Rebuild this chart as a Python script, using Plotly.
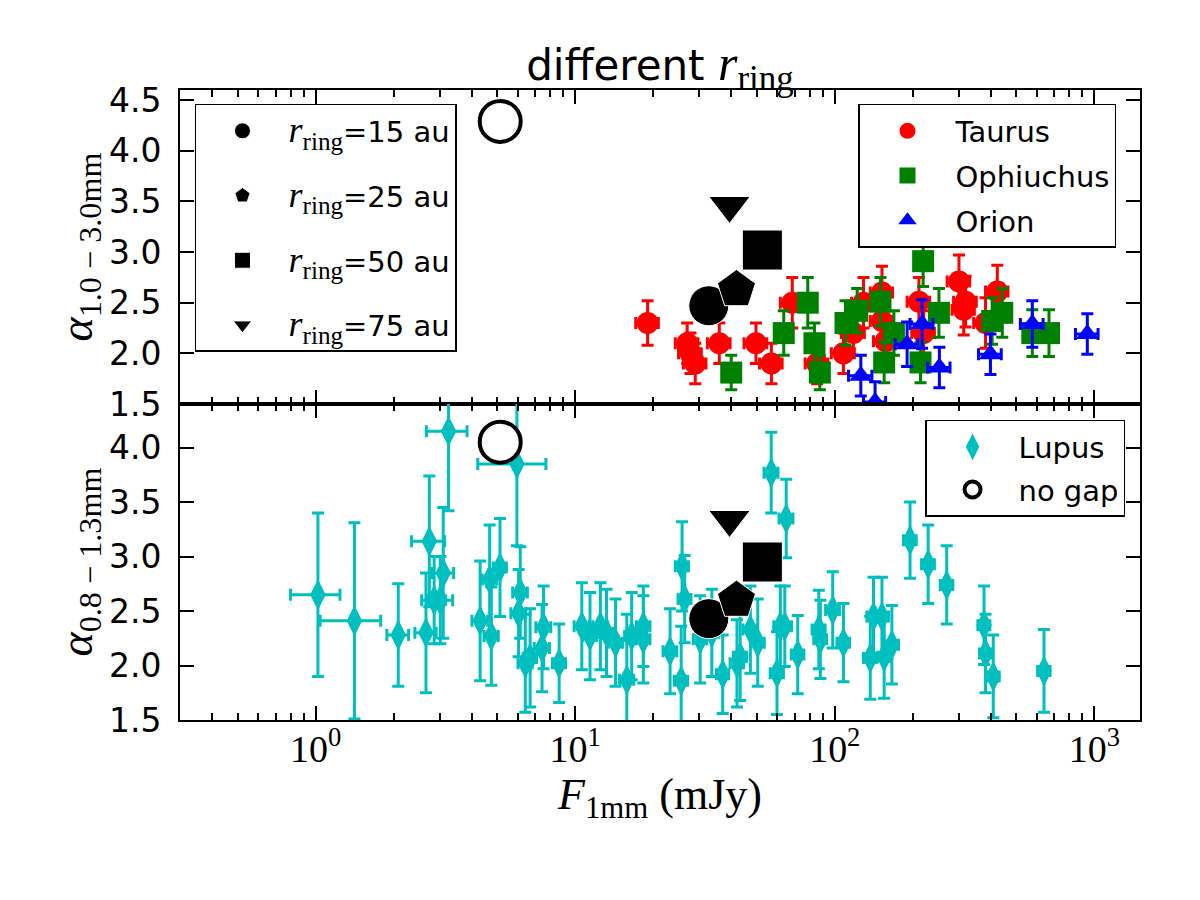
import plotly.graph_objects as go

# ---------------- data ----------------
# Taurus (red circles), top panel
taurus_F = [19.0, 27.0, 27.8, 29.0, 35.9, 49.7, 57.0, 68.6, 85.5, 108, 118, 129,
            152, 152, 157, 211, 220, 301, 319, 314, 381, 423]
taurus_F_err = [1.9, 2.7, 2.8, 2.9, 3.6, 5.0, 5.7, 6.9, 8.6, 11, 12, 13,
                15, 15, 16, 21, 22, 30, 32, 31, 38, 42]
taurus_alpha = [2.30, 2.10, 2.00, 1.90, 2.10, 2.10, 1.90, 2.50, 1.90, 2.00, 2.20, 2.50,
                2.60, 2.32, 2.12, 2.51, 2.20, 2.71, 2.51, 2.43, 2.30, 2.61]
taurus_alpha_err = [0.22, 0.20, 0.20, 0.20, 0.20, 0.20, 0.20, 0.25, 0.20, 0.20, 0.22, 0.25,
                    0.26, 0.25, 0.22, 0.24, 0.22, 0.26, 0.25, 0.25, 0.25, 0.26]

# Ophiuchus (green squares), top panel
ophiuchus_F = [39.9, 63.6, 78.7, 83.5, 87.6, 110, 122, 150, 169, 155, 219, 214,
               252, 404, 442, 577, 669]
ophiuchus_F_err = [2.0, 3.2, 3.9, 4.2, 4.4, 5.5, 6.1, 7.5, 8.5, 7.8, 11, 11,
                   13, 20, 22, 29, 33]
ophiuchus_alpha = [1.81, 2.20, 2.50, 2.10, 1.81, 2.30, 2.42, 2.51, 2.20, 1.91, 2.91, 1.91,
                   2.40, 2.32, 2.40, 2.20, 2.20]
ophiuchus_alpha_err = [0.17, 0.22, 0.25, 0.20, 0.17, 0.22, 0.22, 0.24, 0.22, 0.20, 0.25, 0.20,
                       0.24, 0.23, 0.24, 0.23, 0.23]

# Orion (blue triangles), top panel
orion_F = [126, 143, 190, 217, 253, 398, 577, 577, 940]
orion_F_err = [13, 14, 19, 22, 25, 40, 58, 58, 94]
orion_alpha = [1.78, 1.52, 2.09, 2.29, 1.86, 1.99, 2.29, 3.30, 2.19]
orion_alpha_err = [0.20, 0.20, 0.22, 0.24, 0.20, 0.20, 0.23, 0.22, 0.20]

# Lupus (cyan diamonds), bottom panel
lupus_F = [1.02, 1.41, 2.08, 2.66, 2.74, 2.86, 3.10, 3.02, 3.25, 4.30,
           4.68, 4.75, 5.13, 5.96, 6.14, 6.05, 6.42, 6.70, 7.55, 7.45,
           8.67, 10.6, 11.4, 12.5, 13.2, 14.3, 15.8, 16.5, 18.3, 18.3,
           23.2, 25.8, 26.4, 25.6, 30.3, 33.6, 37.0, 42.0, 43.2, 47.3,
           50.5, 59.9, 61.7, 64.2, 56.9, 65.0, 72.0, 86.8, 88.0, 98.2,
           108, 137, 141, 152, 155, 166, 195, 229, 270, 376,
           381, 408, 640]
lupus_F_err = [0.22, 0.37, 0.20, 0.25, 0.40, 0.30, 0.30, 0.35, 0.58, 0.30,
               0.30, 0.30, 0.30, 1.75, 0.40, 0.40, 0.40, 0.40, 0.50, 0.50,
               0.50, 0.70, 0.70, 0.80, 0.80, 0.90, 1.00, 1.00, 1.10, 1.10,
               1.40, 1.50, 1.50, 1.50, 1.80, 2.00, 2.00, 2.50, 2.50, 3.00,
               3.00, 3.50, 3.50, 4.00, 3.50, 4.00, 4.00, 5.00, 5.00, 6.00,
               6.00, 8.00, 8.00, 9.00, 9.00, 10.0, 11.0, 13.0, 15.0, 20.0,
               20.0, 22.0, 35.0]
lupus_alpha = [2.65, 2.41, 2.28, 2.30, 3.14, 2.60, 2.85, 2.60, 4.15, 2.41,
               2.79, 2.27, 2.90, 3.85, 2.67, 2.48, 2.02, 2.07, 2.35, 2.16,
               2.02, 2.36, 2.27, 2.36, 2.30, 2.21, 1.87, 2.27, 2.36, 2.24,
               2.13, 2.91, 2.61, 1.86, 2.24, 2.30, 1.92, 2.02, 2.08, 2.33,
               2.21, 1.93, 2.36, 2.36, 3.77, 3.35, 2.10, 2.33, 2.24, 2.51,
               2.21, 2.07, 2.45, 2.45, 2.08, 2.19, 3.15, 2.93, 2.74, 2.37,
               2.11, 1.90, 1.95]
lupus_alpha_err = [0.75, 0.90, 0.47, 0.55, 0.60, 0.40, 0.60, 0.40, 0.73, 0.55,
                   0.50, 0.45, 0.45, 0.75, 0.42, 0.40, 0.45, 0.45, 0.38, 0.40,
                   0.36, 0.40, 0.40, 0.40, 0.40, 0.40, 0.60, 0.40, 0.37, 0.40,
                   0.39, 0.41, 0.40, 0.50, 0.40, 0.40, 0.36, 0.40, 0.40, 0.40,
                   0.40, 0.38, 0.37, 0.37, 0.37, 0.36, 0.36, 0.36, 0.36, 0.35,
                   0.36, 0.38, 0.36, 0.36, 0.38, 0.36, 0.35, 0.36, 0.36, 0.36,
                   0.36, 0.38, 0.38]

# Models
ring_labels = ["15 au", "25 au", "50 au", "75 au"]
ring_symbols = ["circle", "pentagon", "square", "triangle-down"]
ring_sizes = [40, 40, 40, 36]
model_F = [32.7, 41.8, 52.6, 39.3]
model_alpha_top = [2.47, 2.63, 3.02, 3.46]
model_alpha_bottom = [2.43, 2.60, 2.95, 3.34]
nogap_F = [5.14]
nogap_alpha_top = [4.29]
nogap_alpha_bottom = [4.05]

x_major = [1, 10, 100, 1000]
x_major_text = ["10<sup>0</sup>", "10<sup>1</sup>", "10<sup>2</sup>", "10<sup>3</sup>"]
x_minor = [0.3, 0.4, 0.5, 0.6, 0.7, 0.8, 0.9,
           2, 3, 4, 5, 6, 7, 8, 9,
           20, 30, 40, 50, 60, 70, 80, 90,
           200, 300, 400, 500, 600, 700, 800, 900]
y_top_ticks = [1.5, 2.0, 2.5, 3.0, 3.5, 4.0, 4.5]
y_bot_ticks = [1.5, 2.0, 2.5, 3.0, 3.5, 4.0]

RED, GREEN, BLUE, CYAN = "#ff0000", "#008000", "#0000ff", "#00bfbf"
SERIF = "Liberation Serif"
SANS = "DejaVu Sans"
RRING = '<span style="font-family:Liberation Serif;font-size:%dpx"><i>r</i><sub>ring</sub></span>'


def ebar(arr, color):
    return dict(type="data", array=arr, color=color, thickness=3, width=6)


fig = go.Figure()

# ---- top panel ----
for k, (name, F, Fe, a, ae, col, sym, sz) in enumerate([
    ("Taurus", taurus_F, taurus_F_err, taurus_alpha, taurus_alpha_err, RED, "circle", 22),
    ("Ophiuchus", ophiuchus_F, ophiuchus_F_err, ophiuchus_alpha, ophiuchus_alpha_err, GREEN, "square", 22),
    ("Orion", orion_F, orion_F_err, orion_alpha, orion_alpha_err, BLUE, "triangle-up", 20),
]):
    fig.add_trace(go.Scatter(
        x=F, y=a, mode="markers", name=name, xaxis="x", yaxis="y",
        marker=dict(symbol=sym, size=sz, color=col, line=dict(width=0)),
        error_y=ebar(ae, col), error_x=ebar(Fe, col),
        legend="legend2", legendgroup="obs%d" % k))

fig.add_trace(go.Scatter(
    x=nogap_F, y=nogap_alpha_top, mode="markers", name="no gap", xaxis="x", yaxis="y",
    marker=dict(symbol="circle", size=41, color="white", line=dict(color="black", width=4)),
    showlegend=False))

for i, lab in enumerate(ring_labels):
    fig.add_trace(go.Scatter(
        x=[model_F[i]], y=[model_alpha_top[i]], mode="markers",
        name=(RRING % 36) + '=' + lab,
        xaxis="x", yaxis="y", legend="legend", legendgroup="ring%d" % i,
        marker=dict(symbol=ring_symbols[i], size=ring_sizes[i], color="black",
                    line=dict(color="white", width=1))))

# ---- bottom panel ----
fig.add_trace(go.Scatter(
    x=lupus_F, y=lupus_alpha, mode="markers", name="Lupus", xaxis="x2", yaxis="y2",
    marker=dict(symbol="diamond-tall", size=19, color=CYAN, line=dict(width=2, color=CYAN)),
    error_y=ebar(lupus_alpha_err, CYAN), error_x=ebar(lupus_F_err, CYAN),
    legend="legend3", legendgroup="lup"))

fig.add_trace(go.Scatter(
    x=nogap_F, y=nogap_alpha_bottom, mode="markers", name="no gap", xaxis="x2", yaxis="y2",
    marker=dict(symbol="circle", size=41, color="white", line=dict(color="black", width=4)),
    legend="legend3", legendgroup="nogap"))

for i, lab in enumerate(ring_labels):
    fig.add_trace(go.Scatter(
        x=[model_F[i]], y=[model_alpha_bottom[i]], mode="markers", showlegend=False,
        xaxis="x2", yaxis="y2",
        marker=dict(symbol=ring_symbols[i], size=ring_sizes[i], color="black",
                    line=dict(color="white", width=1))))

# ---- axes ----
common_x = dict(
    type="log", range=[-0.5229, 3.1761], domain=[0, 1], automargin=False,
    showgrid=False, zeroline=False, showline=True, linecolor="black", linewidth=2,
    mirror="allticks", ticks="inside", ticklen=14, tickwidth=2, tickcolor="black",
    tickmode="array", tickvals=x_major, ticktext=x_major_text,
    minor=dict(tickmode="array", tickvals=x_minor, ticks="inside", ticklen=7,
               tickwidth=1.5, tickcolor="black", showgrid=False),
)
common_y = dict(
    automargin=False,
    showgrid=False, zeroline=False, showline=True, linecolor="black", linewidth=2,
    mirror="allticks", ticks="inside", ticklen=14, tickwidth=2, tickcolor="black",
    tickformat=".1f", tickfont=dict(family=SANS, size=33, color="black"),
    ticklabelstandoff=10,
)

SPLIT = 0.5016  # (720-404)/630

legend_common = dict(bgcolor="white", bordercolor="black", borderwidth=1.5,
                     font=dict(family=SANS, size=29, color="black"),
                     itemsizing="trace")

fig.update_layout(
    width=1200, height=900,
    margin=dict(l=180, r=60, t=90, b=180, autoexpand=False),
    paper_bgcolor="white", plot_bgcolor="white",
    xaxis=dict(common_x, anchor="y", showticklabels=False),
    xaxis2=dict(common_x, anchor="y2", matches="x",
                tickfont=dict(family=SERIF, size=38, color="black"),
                ticklabelstandoff=-6,
                title=dict(text="<i>F</i><sub>1mm</sub> (mJy)",
                           font=dict(family=SERIF, size=44, color="black"), standoff=2)),
    yaxis=dict(common_y, domain=[SPLIT, 1], range=[1.5, 4.6], anchor="x",
               tickmode="array", tickvals=y_top_ticks,
               title=dict(text="<i>α</i><sub>1.0 − 3.0mm</sub>",
                          font=dict(family=SERIF, size=46, color="black"), standoff=2)),
    yaxis2=dict(common_y, domain=[0, SPLIT], range=[1.5, 4.4], anchor="x2",
                tickmode="array", tickvals=y_bot_ticks,
                title=dict(text="<i>α</i><sub>0.8 − 1.3mm</sub>",
                           font=dict(family=SERIF, size=46, color="black"), standoff=2)),
    title=dict(text='different ' + (RRING % 50),
               font=dict(family=SANS, size=42, color="black"),
               x=0.55, xanchor="center", y=0.928, yanchor="middle"),
    legend=dict(legend_common, x=0.0156, y=0.9778, xanchor="left", yanchor="top",
                itemwidth=82, tracegroupgap=24),
    legend2=dict(legend_common, x=0.70625, y=0.9778, xanchor="left", yanchor="top",
                 itemwidth=86, tracegroupgap=4),
    legend3=dict(legend_common, x=0.9844, y=0.4762, xanchor="right", yanchor="top",
                 itemwidth=82, tracegroupgap=2),
    showlegend=True,
)

fig.write_html("out.html")
